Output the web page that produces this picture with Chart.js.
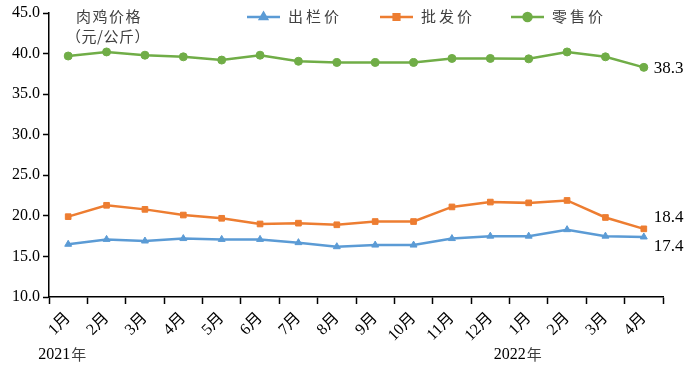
<!DOCTYPE html>
<html>
<head>
<meta charset="utf-8">
<script src="https://cdn.jsdelivr.net/npm/chart.js@4/dist/chart.umd.min.js"></script>
<style>
  html, body { margin: 0; padding: 0; background: #fff; }
  #wrap { width: 693px; height: 371px; position: relative; }
</style>
</head>
<body>
<div id="wrap"><canvas id="chart"></canvas></div>
<script>
// 数据
const months = ['1月', '2月', '3月', '4月', '5月', '6月', '7月', '8月', '9月', '10月', '11月', '12月', '1月', '2月', '3月', '4月'];
const chulan = [16.5, 17.1, 16.9, 17.2, 17.1, 17.1, 16.7, 16.2, 16.4, 16.4, 17.2, 17.5, 17.5, 18.3, 17.5, 17.4];
const pifa = [19.9, 21.3, 20.8, 20.1, 19.7, 19.0, 19.1, 18.9, 19.3, 19.3, 21.1, 21.7, 21.6, 21.9, 19.8, 18.4];
const lingshou = [39.7, 40.2, 39.8, 39.6, 39.2, 39.8, 39.05, 38.9, 38.9, 38.9, 39.4, 39.4, 39.35, 40.2, 39.6, 38.3];
const seriesNames = ['出栏价', '批发价', '零售价'];
const yearLabels = ['2021', '2022'];

const blue = '#5B9BD5', orange = '#ED7D31', green = '#70AD47';
const serif = '"Liberation Serif", "Times New Roman", "Noto Sans CJK SC", serif';
const cjk = '"Noto Sans CJK SC", "Noto Sans", sans-serif';

function spacedText(ctx, text, x, y, spacing) {
    let cx = x;
    for (const ch of text) {
        ctx.fillText(ch, cx, y);
        cx += ctx.measureText(ch).width + spacing;
    }
}

// 图例、单位、年份和末端数值
const extras = {
    id: 'extras',
    afterDraw(chart) {
        const ctx = chart.ctx;
        const xs = chart.scales.x, ys = chart.scales.y;
        ctx.save();

        // 单位
        ctx.fillStyle = '#404040';
        ctx.font = '15px ' + cjk;
        ctx.textBaseline = 'middle';
        spacedText(ctx, '肉鸡价格', 76, 16, 1.5);
        spacedText(ctx, '（元/公斤）', 66, 36, 0.5);

        // 图例
        const legend = [
            { x: 247, color: blue, style: 'triangle' },
            { x: 380, color: orange, style: 'rect' },
            { x: 511, color: green, style: 'circle' }
        ];
        legend.forEach((l, i) => {
            ctx.strokeStyle = l.color;
            ctx.lineWidth = 2.5;
            ctx.beginPath();
            ctx.moveTo(l.x, 17);
            ctx.lineTo(l.x + 33, 17);
            ctx.stroke();
            ctx.fillStyle = l.color;
            Chart.helpers.drawPoint(ctx, { pointStyle: l.style, radius: 4, borderWidth: 1 }, l.x + 16.5, 17);
            ctx.fillStyle = '#404040';
            ctx.font = '15px ' + cjk;
            spacedText(ctx, seriesNames[i], l.x + 41, 16, 3);
        });

        // 年份
        ctx.textAlign = 'left';
        const years = [xs.getPixelForValue(0) - 30, xs.getPixelForValue(12) - 35];
        years.forEach((x, i) => {
            ctx.fillStyle = '#000';
            ctx.font = '16px ' + serif;
            ctx.fillText(yearLabels[i], x, 355);
            const w = ctx.measureText(yearLabels[i]).width;
            ctx.fillStyle = '#404040';
            ctx.font = '15px ' + cjk;
            ctx.fillText('年', x + w + 1, 354);
        });

        // 末端数值
        const last = months.length - 1;
        const lx = xs.getPixelForValue(last) + 10;
        ctx.fillStyle = '#000';
        ctx.font = '17px ' + serif;
        ctx.fillText(lingshou[last].toFixed(1), lx, ys.getPixelForValue(lingshou[last]) + 1);
        ctx.fillText(pifa[last].toFixed(1), lx, ys.getPixelForValue(pifa[last]) - 11);
        ctx.fillText(chulan[last].toFixed(1), lx, ys.getPixelForValue(chulan[last]) + 10);
        ctx.restore();
    }
};

function ds(label, data, color, style) {
    return {
        label: label,
        data: data,
        borderColor: color,
        backgroundColor: color,
        borderWidth: 2.5,
        pointStyle: style,
        pointRadius: 4,
        pointBorderWidth: 1,
        tension: 0,
        fill: false
    };
}

new Chart(document.getElementById('chart'), {
    type: 'line',
    data: {
        labels: months,
        datasets: [
            ds(seriesNames[0], chulan, blue, 'triangle'),
            ds(seriesNames[1], pifa, orange, 'rect'),
            ds(seriesNames[2], lingshou, green, 'circle')
        ]
    },
    options: {
        responsive: true,
        maintainAspectRatio: false,
        animation: false,
        layout: { padding: { left: 0, right: 30, top: 13, bottom: 0 } },
        plugins: {
            legend: { display: false },
            tooltip: { enabled: false }
        },
        scales: {
            x: {
                offset: true,
                grid: {
                    offset: true,
                    drawOnChartArea: false,
                    drawTicks: true,
                    tickLength: 7,
                    tickColor: '#000',
                    tickWidth: 1.5
                },
                border: { display: true, color: '#000', width: 1.5 },
                ticks: {
                    color: '#000',
                    font: { size: 16, family: serif },
                    maxRotation: 45,
                    minRotation: 45,
                    autoSkip: false,
                    padding: 5
                },
                afterFit(scale) { scale.height = 74; }
            },
            y: {
                min: 10,
                max: 45,
                grid: {
                    drawOnChartArea: false,
                    drawTicks: true,
                    tickLength: 6,
                    tickColor: '#000',
                    tickWidth: 1.5
                },
                border: { display: true, color: '#000', width: 1.5 },
                ticks: {
                    stepSize: 5,
                    color: '#000',
                    font: { size: 16, family: serif },
                    padding: 3,
                    callback: v => v.toFixed(1)
                },
                afterFit(scale) { scale.width = 49; }
            }
        }
    },
    plugins: [extras]
});
</script>
</body>
</html>
